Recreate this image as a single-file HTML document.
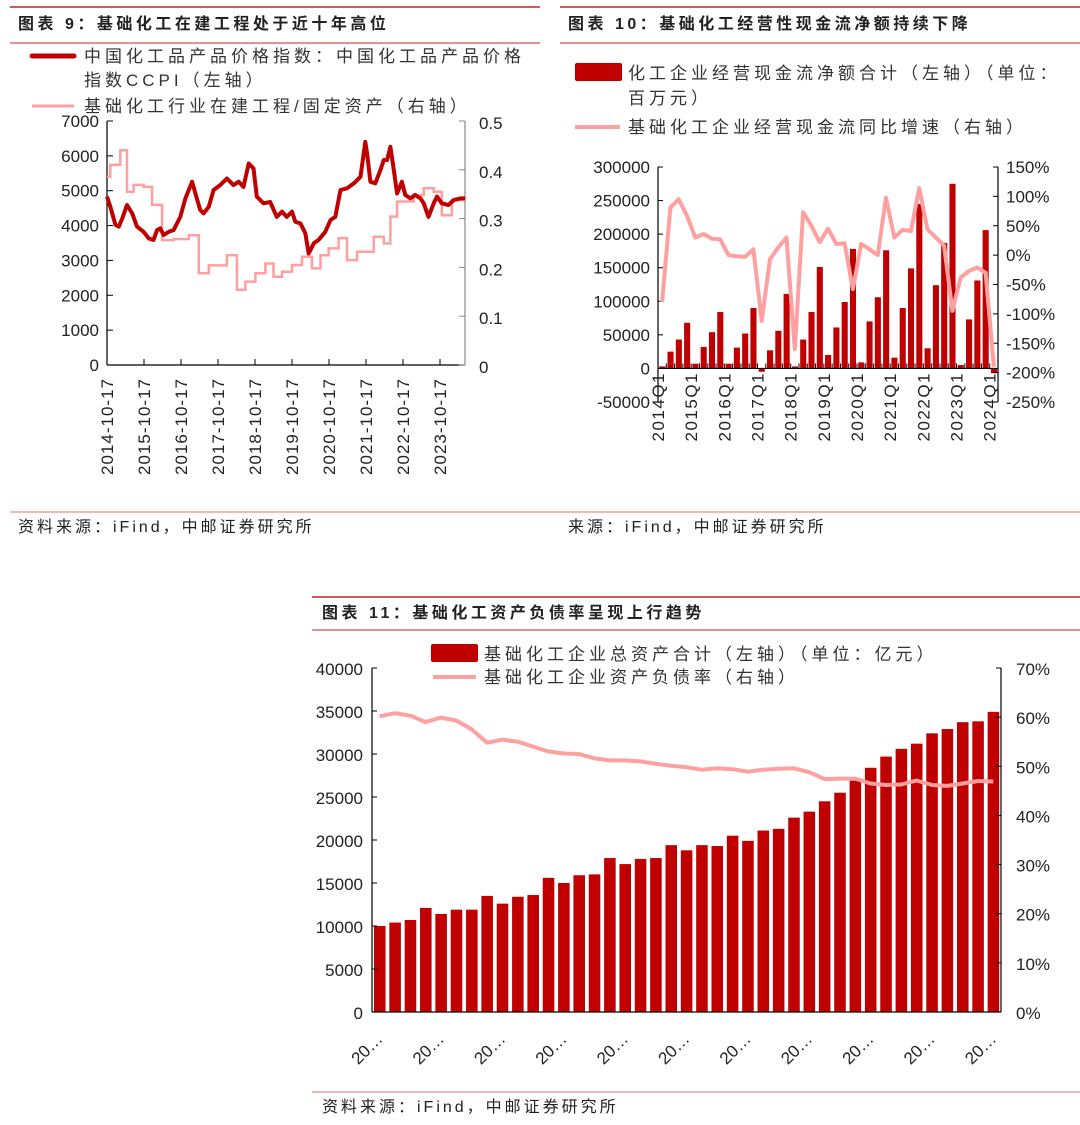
<!DOCTYPE html>
<html><head><meta charset="utf-8">
<style>
html,body{margin:0;padding:0;background:#fff;}
svg{display:block;font-family:"Liberation Sans","Noto Sans CJK SC",sans-serif;}
.tick{font-size:17px;fill:#222;}
.leg{font-size:17px;fill:#333;letter-spacing:4px;}
.ttl{font-size:16px;font-weight:bold;fill:#222;letter-spacing:3.5px;}
.src{font-size:16px;fill:#222;letter-spacing:3px;}
</style></head>
<body>
<svg id="s" width="1080" height="1125" viewBox="0 0 1080 1125">
<g>
<line x1="10" y1="7" x2="540" y2="7" stroke="#c8202a" stroke-width="1.5"/>
<text class="ttl" x="18" y="29">图表 9：基础化工在建工程处于近十年高位</text>
<line x1="10" y1="43" x2="540" y2="43" stroke="#c8202a" stroke-width="1"/>
</g>
<g>
<line x1="32" y1="56" x2="74" y2="56" stroke="#c00000" stroke-width="5" stroke-linecap="round"/>
<text class="leg" x="84" y="62">中国化工品产品价格指数：中国化工品产品价格</text>
<text class="leg" x="84" y="86">指数CCPI（左轴）</text>
<line x1="32" y1="106" x2="74" y2="106" stroke="#ffa0a0" stroke-width="3"/>
<text class="leg" x="84" y="112">基础化工行业在建工程/固定资产（右轴）</text>
</g>
<g id="c9"></g>
<line x1="10" y1="512" x2="1080" y2="512" stroke="#e07070" stroke-width="1"/>
<text class="src" x="18" y="532">资料来源：iFind，中邮证券研究所</text>
<text class="src" x="568" y="532">来源：iFind，中邮证券研究所</text>

<g>
<line x1="560" y1="7" x2="1080" y2="7" stroke="#c8202a" stroke-width="1.5"/>
<text class="ttl" x="568" y="29">图表 10：基础化工经营性现金流净额持续下降</text>
<line x1="560" y1="43" x2="1080" y2="43" stroke="#c8202a" stroke-width="1"/>
</g>
<g>
<rect x="575" y="63" width="47" height="18" rx="2" fill="#c00000"/>
<text class="leg" x="628" y="79">化工企业经营现金流净额合计（左轴）（单位：</text>
<text class="leg" x="628" y="104">百万元）</text>
<line x1="575" y1="127" x2="620" y2="127" stroke="#ffa0a0" stroke-width="4"/>
<text class="leg" x="628" y="133">基础化工企业经营现金流同比增速（右轴）</text>
</g>
<g id="c10"></g>

<g>
<line x1="312" y1="597" x2="1080" y2="597" stroke="#c8202a" stroke-width="1.5"/>
<text class="ttl" x="322" y="618">图表 11：基础化工资产负债率呈现上行趋势</text>
<line x1="312" y1="630" x2="1080" y2="630" stroke="#c8202a" stroke-width="1"/>
</g>
<g>
<rect x="431" y="644" width="47" height="18" rx="2" fill="#c00000"/>
<text class="leg" x="484" y="660">基础化工企业总资产合计（左轴）（单位：亿元）</text>
<line x1="433" y1="677" x2="476" y2="677" stroke="#ffa0a0" stroke-width="4"/>
<text class="leg" x="484" y="683">基础化工企业资产负债率（右轴）</text>
</g>
<g id="c11"></g>
<line x1="312" y1="1092" x2="1080" y2="1092" stroke="#e07070" stroke-width="1"/>
<text class="src" x="322" y="1112">资料来源：iFind，中邮证券研究所</text>
</svg>
<script>
const c9Dates = [2014.79,2014.88,2015.02,2015.11,2015.20,2015.33,2015.47,2015.60,2015.78,2015.92,2016.05,2016.14,2016.23,2016.32,2016.46,2016.59,2016.77,2016.91,2017.09,2017.18,2017.31,2017.40,2017.54,2017.67,2017.85,2018.03,2018.21,2018.35,2018.48,2018.62,2018.75,2018.84,2019.02,2019.20,2019.38,2019.52,2019.65,2019.79,2019.88,2020.02,2020.15,2020.24,2020.38,2020.51,2020.69,2020.83,2020.96,2021.10,2021.28,2021.46,2021.64,2021.77,2021.82,2021.91,2022.04,2022.18,2022.27,2022.36,2022.45,2022.54,2022.63,2022.76,2022.85,2022.99,2023.12,2023.26,2023.35,2023.48,2023.62,2023.71,2023.84,2024.02,2024.16,2024.34,2024.47];
const c9Ccpi = [4830,4540,4020,3970,4200,4590,4350,3970,3820,3630,3590,3870,3920,3730,3820,3870,4250,4780,5260,4920,4450,4350,4540,5020,5160,5350,5160,5260,5110,5780,5640,4830,4640,4680,4250,4400,4250,4400,4110,4060,3780,3200,3490,3590,3820,4160,4250,5020,5070,5210,5400,6400,6070,5260,5210,5590,5880,5880,6260,5590,4920,5260,4880,4780,4880,4780,4640,4250,4640,4830,4640,4590,4730,4780,4780];
const c9StepDates = [2014.79,2014.88,2015.15,2015.33,2015.51,2015.78,2016.01,2016.28,2016.59,2017.00,2017.27,2017.54,2018.03,2018.30,2018.53,2018.80,2019.07,2019.29,2019.52,2019.79,2020.06,2020.33,2020.56,2020.78,2021.05,2021.28,2021.55,2022.00,2022.27,2022.45,2022.63,2023.08,2023.35,2023.62,2023.84,2024.11,2024.47];
const c9Ratio = [0.386,0.41,0.44,0.355,0.369,0.365,0.328,0.256,0.258,0.266,0.188,0.204,0.225,0.154,0.171,0.188,0.208,0.181,0.191,0.205,0.222,0.198,0.225,0.239,0.260,0.215,0.232,0.263,0.249,0.304,0.335,0.348,0.362,0.355,0.307,0.338,0.338];
const c9LeftTicks = [0,1000,2000,3000,4000,5000,6000,7000];
const c9RightTicks = [0,0.1,0.2,0.3,0.4,0.5];
const c9RightLabels = ["0","0.1","0.2","0.3","0.4","0.5"];
const c9XTicks = [2014.79,2015.79,2016.79,2017.79,2018.79,2019.79,2020.79,2021.79,2022.79,2023.79];
const c9XLabels = ["2014-10-17","2015-10-17","2016-10-17","2017-10-17","2018-10-17","2019-10-17","2020-10-17","2021-10-17","2022-10-17","2023-10-17"];

const c10Quarters = ["2014Q1","2014Q2","2014Q3","2014Q4","2015Q1","2015Q2","2015Q3","2015Q4","2016Q1","2016Q2","2016Q3","2016Q4","2017Q1","2017Q2","2017Q3","2017Q4","2018Q1","2018Q2","2018Q3","2018Q4","2019Q1","2019Q2","2019Q3","2019Q4","2020Q1","2020Q2","2020Q3","2020Q4","2021Q1","2021Q2","2021Q3","2021Q4","2022Q1","2022Q2","2022Q3","2022Q4","2023Q1","2023Q2","2023Q3","2023Q4","2024Q1"];
const c10Cash = [3000,25000,43000,68000,7000,32000,54000,84000,7000,31000,52000,90000,-5000,27000,56000,111000,3000,43000,84000,151000,20000,61000,99000,178000,9000,70000,106000,176000,16000,90000,149000,245000,30000,124000,187000,275000,5000,73000,131000,206000,-7000];
const c10Yoy = [-80,81,95,67,30,36,28,27,0,-2,-3,10,-112,-7,13,30,-160,73,50,22,45,19,20,-58,19,10,0,98,30,43,41,114,44,30,16,-95,-38,-27,-21,-30,-190];
const c10LeftTicks = [-50000,0,50000,100000,150000,200000,250000,300000];
const c10RightTicks = [-250,-200,-150,-100,-50,0,50,100,150];

const c11Assets = [10000,10400,10700,12100,11400,11900,11900,13500,12600,13400,13600,15600,15000,15900,16000,17900,17200,17800,17900,19400,18800,19400,19300,20500,19900,21100,21300,22600,23300,24500,25500,26900,28400,29700,30600,31200,32400,32900,33700,33800,34900];
const c11Debt = [60.2,60.8,60.3,59.0,59.9,59.3,57.5,54.8,55.4,55.0,54.0,53.0,52.6,52.5,51.6,51.2,51.2,51.0,50.5,50.1,49.8,49.3,49.6,49.4,48.9,49.3,49.5,49.6,48.8,47.4,47.5,47.5,46.5,46.2,46.3,47.1,46.2,46.0,46.5,47.0,46.9];
const c11LeftTicks = [0,5000,10000,15000,20000,25000,30000,35000,40000];
const c11RightTicks = [0,10,20,30,40,50,60,70];

const NS="http://www.w3.org/2000/svg";
function mk(parent,tag,attrs,text){const e=document.createElementNS(NS,tag);for(const k in attrs)e.setAttribute(k,attrs[k]);if(text!==undefined)e.textContent=text;parent.appendChild(e);return e;}

(function(){
const g=document.getElementById('c9');
const X0=107,X1=465,Y0=365,Y1=121;
const xs=t=>X0+(t-2014.79)*37;
const yl=v=>Y0-(v/7000)*(Y0-Y1);
const yr=v=>Y0-(v/0.5)*(Y0-Y1);
let ax=mk(g,'line',{x1:X0,y1:Y1,x2:X0,y2:Y0,stroke:'#000','stroke-width':1.2});

let axb=mk(g,'line',{x1:X0,y1:Y0,x2:X1,y2:Y0,stroke:'#000','stroke-width':1.2});

let axr=mk(g,'line',{x1:X1,y1:Y1,x2:X1,y2:Y0,stroke:'#888','stroke-width':1.2});

c9LeftTicks.forEach(v=>{const y=yl(v);mk(g,'line',{x1:X0,y1:y,x2:X0+6,y2:y,stroke:'#000'});
 const t=mk(g,'text',{x:X0-8,y:y+6,'text-anchor':'end',class:'tick'},String(v));
 });
c9RightTicks.forEach((v,i)=>{const y=yr(v);mk(g,'line',{x1:X1,y1:y,x2:X1-6,y2:y,stroke:'#888'});
 const t=mk(g,'text',{x:X1+14,y:y+8,class:'tick','font-size':'20'},c9RightLabels[i]);
 });
c9XTicks.forEach((d,i)=>{const x=xs(d);mk(g,'line',{x1:x,y1:Y0,x2:x,y2:Y0-6,stroke:'#000'});
 const t=mk(g,'text',{x:0,y:0,class:'tick','font-size':'16','letter-spacing':'1',transform:`translate(${x+6},${Y0+13}) rotate(-90)`,'text-anchor':'end'},c9XLabels[i]);
 });
let d='';
for(let i=0;i<c9StepDates.length-1;i++){const x=xs(c9StepDates[i]),x2=xs(c9StepDates[i+1]),y=yr(c9Ratio[i]);d+=(i?'L':'M')+x.toFixed(1)+','+y.toFixed(1)+'L'+x2.toFixed(1)+','+y.toFixed(1);}
const p2=mk(g,'path',{d:d,fill:'none',stroke:'#ffa0a0','stroke-width':2.5});

const p1=mk(g,'path',{d:c9Dates.map((t,i)=>(i?'L':'M')+xs(t).toFixed(1)+','+yl(c9Ccpi[i]).toFixed(1)).join(''),fill:'none',stroke:'#c00000','stroke-width':4,'stroke-linejoin':'round'});

})();

(function(){
const g=document.getElementById('c10');
const X0=658,X1=998,Ytop=167,Ybot=402;
const yl=v=>Ytop+(300000-v)/350000*(Ybot-Ytop);
const yr=v=>Ytop+(150-v)/400*(Ybot-Ytop);
const n=c10Quarters.length,cw=(X1-X0)/n;
c10Cash.forEach((v,i)=>{const x=X0+i*cw+1.2,y0=yl(0),y=yl(v);
 const r=mk(g,'rect',{x:x,y:Math.min(y,y0),width:cw-2.2,height:Math.max(1,Math.abs(y0-y)),fill:'#c00000'});
 });
let ax=mk(g,'line',{x1:X0,y1:Ytop,x2:X0,y2:Ybot,stroke:'#000','stroke-width':1.2});

let axr=mk(g,'line',{x1:X1,y1:Ytop,x2:X1,y2:Ybot,stroke:'#000','stroke-width':1.2});

let z=mk(g,'line',{x1:X0,y1:yl(0),x2:X1,y2:yl(0),stroke:'#000','stroke-width':1.2});

for(let i=0;i<=n;i++){const x=X0+i*cw;mk(g,'line',{x1:x,y1:yl(0),x2:x,y2:yl(0)-5,stroke:'#000'});}
c10LeftTicks.forEach(v=>{const y=yl(v);mk(g,'line',{x1:X0,y1:y,x2:X0+5,y2:y,stroke:'#000'});
 const t=mk(g,'text',{x:X0-8,y:y+6,'text-anchor':'end',class:'tick'},String(v));
 });
c10RightTicks.forEach(v=>{const y=yr(v);mk(g,'line',{x1:X1,y1:y,x2:X1-5,y2:y,stroke:'#000'});
 const t=mk(g,'text',{x:X1+8,y:y+6,class:'tick'},v+'%');
 });
c10Quarters.forEach((q,i)=>{if(i%4)return;const x=X0+i*cw;
 const t=mk(g,'text',{x:0,y:0,class:'tick','font-size':'15','letter-spacing':'1.5',transform:`translate(${x+6},${372}) rotate(-90)`,'text-anchor':'end'},q);
 });
const p=mk(g,'path',{d:c10Yoy.map((v,i)=>(i?'L':'M')+(X0+(i+0.5)*cw).toFixed(1)+','+yr(v).toFixed(1)).join(''),fill:'none',stroke:'#ffa0a0','stroke-width':4,'stroke-linejoin':'round'});

})();

(function(){
const g=document.getElementById('c11');
const X0=372,X1=1001,Ytop=668,Ybot=1012;
const yl=v=>Ybot-v/40000*(Ybot-Ytop);
const yr=v=>Ybot-v/70*(Ybot-Ytop);
const n=c11Assets.length,cw=(X1-X0)/n;
c11Assets.forEach((v,i)=>{const x=X0+i*cw+2,y=yl(v);
 const r=mk(g,'rect',{x:x,y:y,width:cw-3.8,height:Ybot-y,fill:'#c00000'});
 });
let ax=mk(g,'line',{x1:X0,y1:Ytop,x2:X0,y2:Ybot,stroke:'#000','stroke-width':1.2});

let axb=mk(g,'line',{x1:X0,y1:Ybot,x2:X1,y2:Ybot,stroke:'#000','stroke-width':1.2});

let axr=mk(g,'line',{x1:X1,y1:Ytop,x2:X1,y2:Ybot,stroke:'#000','stroke-width':1.2});

c11LeftTicks.forEach(v=>{const y=yl(v);mk(g,'line',{x1:X0,y1:y,x2:X0+5,y2:y,stroke:'#000'});
 const t=mk(g,'text',{x:X0-9,y:y+7,'text-anchor':'end',class:'tick','font-size':'18'},String(v));
 });
c11RightTicks.forEach(v=>{const y=yr(v);mk(g,'line',{x1:X1,y1:y,x2:X1-5,y2:y,stroke:'#000'});
 const t=mk(g,'text',{x:X1+15,y:y+7,class:'tick','font-size':'18'},v+'%');
 });
for(let i=0;i<n;i+=4){const x=X0+(i+0.5)*cw+4;
 const t=mk(g,'text',{x:0,y:0,class:'tick','font-size':'18',transform:`translate(${x},${1040}) rotate(-45)`,'text-anchor':'end'},'20…');
 }
const p=mk(g,'path',{d:c11Debt.map((v,i)=>(i?'L':'M')+(X0+(i+0.5)*cw).toFixed(1)+','+yr(v).toFixed(1)).join(''),fill:'none',stroke:'#ffa0a0','stroke-width':4,'stroke-linejoin':'round'});

})();
</script>
</body></html>
